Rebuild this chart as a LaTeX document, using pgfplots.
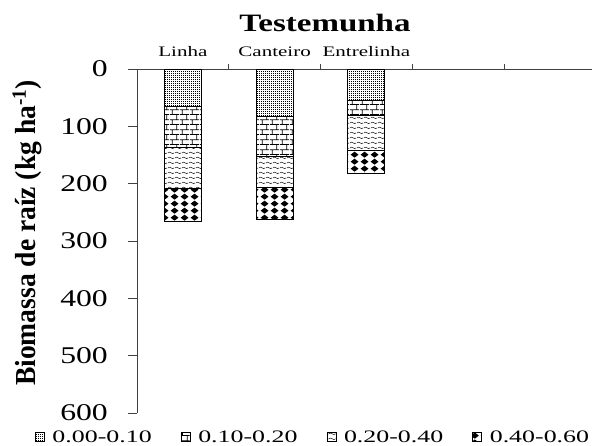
\documentclass[border=0pt]{standalone}
\usepackage{pgfplots}
\pgfplotsset{compat=1.18}
\usetikzlibrary{patterns.meta}
\usepackage{fontspec}
\setmainfont{Liberation Serif}
\newfontfamily\tickfam[FakeStretch=1.32]{Liberation Serif}
\newfontfamily\legfam[FakeStretch=1.48]{Liberation Serif}
\newfontfamily\catfam[FakeStretch=1.45]{Liberation Serif}
\newfontfamily\ylabfam[FakeStretch=0.95]{Liberation Serif}

\tikzdeclarepattern{
  name=pdots, type=uncolored,
  bottom left={(0pt,0pt)}, top right={(1.5pt,1.5pt)}, tile size={(1.5pt,1.5pt)},
  code={\tikzset{x=1pt,y=1pt}\fill (0,0) rectangle (1.1,1.1);}
}
\tikzdeclarepattern{
  name=pbricks, type=uncolored,
  bottom left={(0pt,0pt)}, top right={(10pt,10.4pt)}, tile size={(10pt,10.4pt)},
  code={\tikzset{x=1pt,y=1pt}\draw[line width=0.8pt] (0,0.4)--(10,0.4) (0,5.6)--(10,5.6) (2.5,0.4)--(2.5,5.6) (7.5,5.6)--(7.5,10.4) (7.5,0)--(7.5,0.4);}
}
\tikzdeclarepattern{
  name=pwaves, type=uncolored,
  bottom left={(0pt,0pt)}, top right={(7pt,5pt)}, tile size={(7pt,5pt)},
  code={\tikzset{x=1pt,y=1pt}\draw[line width=0.5pt] (0,2.5) sin (1.75,3.4) cos (3.5,2.5) sin (5.25,1.6) cos (7,2.5);}
}
\tikzdeclarepattern{
  name=pdiam, type=uncolored,
  bottom left={(0pt,0pt)}, top right={(10pt,6.8pt)}, tile size={(10pt,6.8pt)},
  code={\tikzset{x=1pt,y=1pt}\fill (5,0.3)--(9.3,3.4)--(5,6.5)--(0.7,3.4)--cycle;}
}

\begin{document}
\begin{tikzpicture}
\begin{axis}[
  scale only axis, width=455pt, height=344pt,
  xmin=0, xmax=4.96, ymin=0, ymax=600, y dir=reverse,
  ybar stacked, bar width=37pt,
  axis x line*=top, axis y line*=left,
  axis line style={black!75, line width=0.8pt},
  tick style={black!75, line width=0.8pt},
  tick align=outside,
  major tick length=9pt, minor tick length=5pt,
  xtick={0.5,1.5,2.5}, xticklabels={Linha,Canteiro,Entrelinha},
  minor xtick={1,2,3,4},
  every major x tick/.style={draw=none},
  xticklabel style={font=\catfam\fontsize{14.5}{16}\selectfont, inner sep=0pt, yshift=3pt},
  ytick={0,100,...,600}, yticklabels={0,100,200,300,400,500,600},
  yticklabel style={font=\tickfam\fontsize{24}{28}\selectfont, inner xsep=0pt, xshift=-20pt},
  legend columns=4,
  legend style={draw=none, fill=none, at={(-0.2242,-0.0698)}, anchor=west, inner sep=0pt, outer sep=0pt,
    column sep=8pt, /tikz/every even column/.append style={column sep=29pt},
    nodes={inner sep=0pt, font=\legfam\fontsize{17.5}{20}\selectfont}},
  legend image code/.code={\draw[#1, line width=0.5pt] (0pt,-4.5pt) rectangle (9pt,4.5pt);},
  clip=false,
]
\addplot[draw=black, line width=0.8pt, pattern=pdots, pattern color=black] coordinates {(0.5,66) (1.5,83) (2.5,55)};
\addplot[draw=black, line width=0.8pt, pattern=pbricks, pattern color=black] coordinates {(0.5,70) (1.5,69) (2.5,26)};
\addplot[draw=black, line width=0.8pt, pattern=pwaves, pattern color=black] coordinates {(0.5,73) (1.5,55) (2.5,61)};
\addplot[draw=black, line width=0.8pt, pattern=pdiam, pattern color=black] coordinates {(0.5,56) (1.5,56) (2.5,40)};
\legend{0.00-0.10,0.10-0.20,0.20-0.40,0.40-0.60}
\coordinate (TL) at (axis cs:0,0);
\end{axis}
\node[font=\tickfam\bfseries\fontsize{25}{28}\selectfont] at ([xshift=188pt,yshift=46pt]TL) {Testemunha};
\node[font=\ylabfam\bfseries\fontsize{29}{32}\selectfont, rotate=90] at ([xshift=-110pt,yshift=-164pt]TL) {Biomassa de raíz (kg ha\textsuperscript{-1})};
\pgfresetboundingbox
\path ([xshift=-137pt,yshift=69pt]TL) rectangle ([xshift=455pt,yshift=-376pt]TL);
\end{tikzpicture}
\end{document}
